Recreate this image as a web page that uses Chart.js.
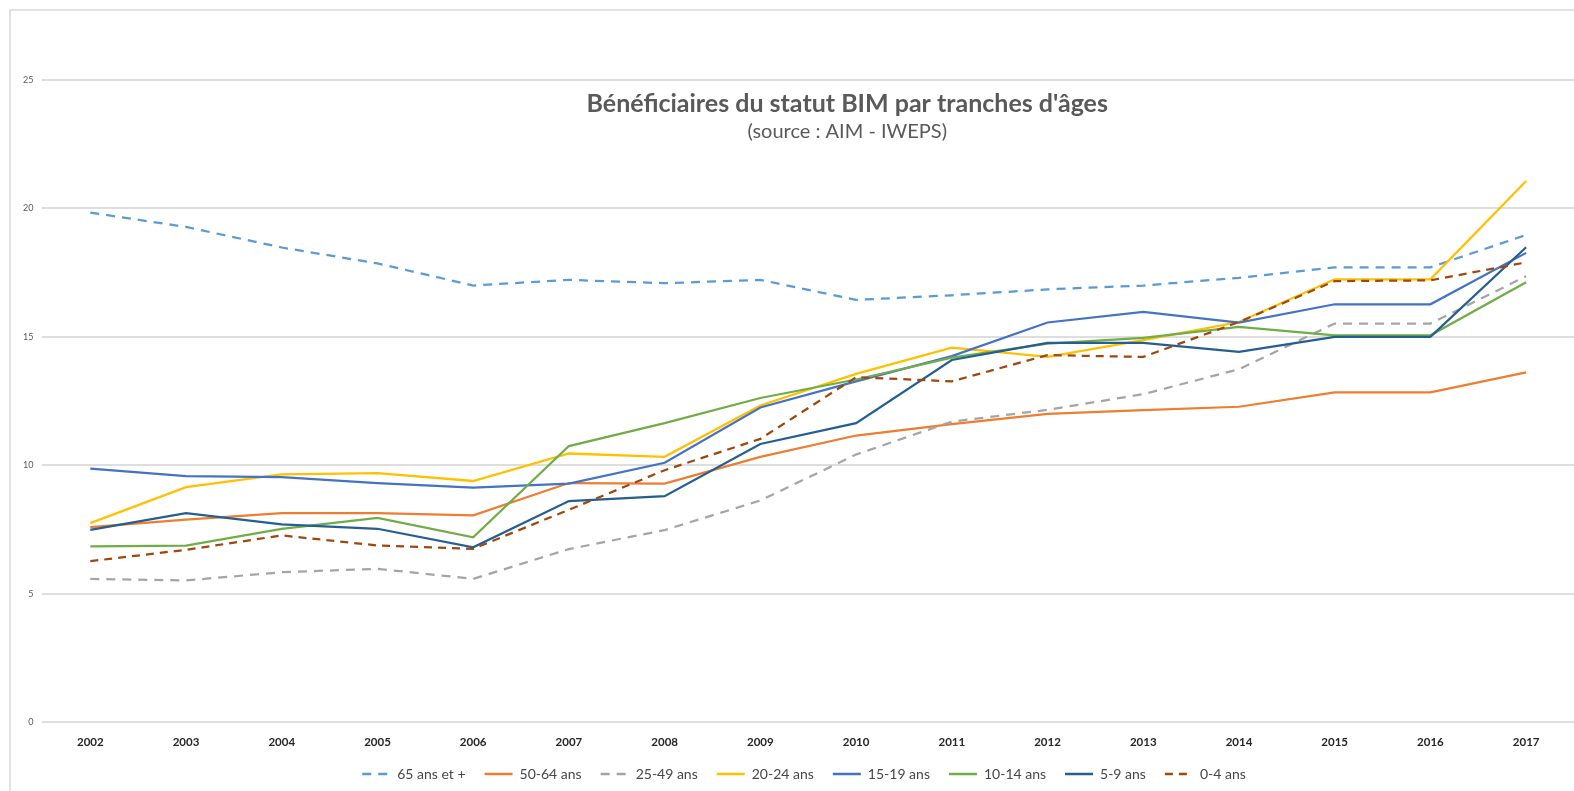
<!DOCTYPE html>
<html lang="fr">
<head>
<meta charset="utf-8">
<title>Bénéficiaires du statut BIM par tranches d'âges</title>
<script src="https://cdn.jsdelivr.net/npm/chart.js@4.4.1/dist/chart.umd.min.js"></script>
<style>
  html, body { margin: 0; padding: 0; background: #fff; }
  #wrap { width: 1574px; height: 791px; position: relative; }
</style>
</head>
<body>
<div id="wrap"><canvas id="bimChart"></canvas></div>
<script>
// years on the x axis
const years = ['2002', '2003', '2004', '2005', '2006', '2007', '2008', '2009',
  '2010', '2011', '2012', '2013', '2014', '2015', '2016', '2017'];

// values per age group
const ans65plus = [19.84, 19.28, 18.48, 17.86, 17.0, 17.22, 17.09, 17.22, 16.44, 16.62, 16.85, 17.0, 17.3, 17.71, 17.71, 18.97];
const ans50_64 = [7.59, 7.89, 8.14, 8.14, 8.05, 9.31, 9.29, 10.33, 11.16, 11.6, 12.0, 12.15, 12.28, 12.84, 12.84, 13.62];
const ans25_49 = [5.58, 5.52, 5.84, 5.97, 5.58, 6.74, 7.48, 8.63, 10.42, 11.7, 12.16, 12.77, 13.74, 15.52, 15.52, 17.36];
const ans20_24 = [7.75, 9.15, 9.65, 9.7, 9.39, 10.46, 10.33, 12.33, 13.56, 14.58, 14.22, 14.87, 15.58, 17.24, 17.24, 21.07];
const ans15_19 = [9.87, 9.58, 9.54, 9.31, 9.13, 9.29, 10.1, 12.25, 13.27, 14.25, 15.56, 15.97, 15.56, 16.27, 16.27, 18.27];
const ans10_14 = [6.84, 6.87, 7.53, 7.95, 7.2, 10.75, 11.64, 12.62, 13.34, 14.19, 14.74, 14.96, 15.39, 15.06, 15.06, 17.13];
const ans5_9 = [7.49, 8.14, 7.7, 7.53, 6.81, 8.61, 8.8, 10.83, 11.64, 14.1, 14.77, 14.77, 14.42, 15.0, 15.0, 18.49];
const ans0_4 = [6.27, 6.71, 7.27, 6.88, 6.75, 8.27, 9.81, 11.03, 13.43, 13.27, 14.29, 14.22, 15.58, 17.17, 17.2, 17.9];

const yTicks = [0, 5, 10, 15, 20, 25];

const titleText = "Bénéficiaires du statut BIM par tranches d'âges";
const subtitleText = '(source : AIM - IWEPS)';

function line(label, data, color, dash) {
  return {
    label: label,
    data: data,
    borderColor: color,
    backgroundColor: color,
    borderWidth: 2.25,
    borderDash: dash || [],
    pointRadius: 0,
    pointHoverRadius: 0,
    tension: 0,
    fill: false
  };
}

// Excel paints the last series on top, Chart.js paints the first one on top,
// so the list is reversed here and the legend is flipped back.
const datasets = [
  line('0-4 ans', ans0_4, '#9e480e', [8, 6]),
  line('5-9 ans', ans5_9, '#255e91'),
  line('10-14 ans', ans10_14, '#70ad47'),
  line('15-19 ans', ans15_19, '#4472c4'),
  line('20-24 ans', ans20_24, '#ffc000'),
  line('25-49 ans', ans25_49, '#a5a5a5', [9, 7]),
  line('50-64 ans', ans50_64, '#ed7d31'),
  line('65 ans et +', ans65plus, '#5b9bd5', [9, 7])
];

// frame round the chart and the title drawn inside the plot, like in Excel
const excelFrame = {
  id: 'excelFrame',
  afterLayout(chart) {
    // legend sits a little right of the canvas centre in the original
    chart.legend.left += 10;
    chart.legend.right += 10;
  },
  beforeDraw(chart) {
    const ctx = chart.ctx;
    ctx.save();
    ctx.fillStyle = '#ffffff';
    ctx.fillRect(0, 0, chart.width, chart.height);
    ctx.strokeStyle = '#d9d9d9';
    ctx.lineWidth = 1.5;
    ctx.strokeRect(10, 10, chart.width, chart.height);
    ctx.restore();
  },
  afterDraw(chart) {
    const ctx = chart.ctx;
    const area = chart.chartArea;
    const cx = (area.left + area.right) / 2 + 39;
    ctx.save();
    ctx.textAlign = 'center';
    ctx.textBaseline = 'middle';
    ctx.fillStyle = '#595959';
    ctx.font = 'bold 25px Lato, "Open Sans", sans-serif';
    ctx.fillText(titleText, cx, area.top + 24);
    ctx.font = '20px Lato, "Open Sans", sans-serif';
    ctx.fillText(subtitleText, cx, area.top + 52);
    ctx.restore();
  }
};

// legend keys take the line dash and width of their series
function legendLabels(chart) {
  const items = Chart.defaults.plugins.legend.labels.generateLabels(chart);
  items.forEach(item => {
    const ds = chart.data.datasets[item.datasetIndex];
    item.lineDash = ds.borderDash;
    item.lineWidth = 2.5;
    item.strokeStyle = ds.borderColor;
  });
  return items;
}

const ctx = document.getElementById('bimChart');
new Chart(ctx, {
  type: 'line',
  data: { labels: years, datasets: datasets },
  plugins: [excelFrame],
  options: {
    responsive: true,
    maintainAspectRatio: false,
    animation: false,
    layout: { padding: { left: 14, right: 0, top: 80, bottom: 0 } },
    plugins: {
      title: { display: false },
      tooltip: { enabled: false },
      legend: {
        position: 'bottom',
        reverse: true,
        labels: {
          usePointStyle: true,
          pointStyle: 'line',
          pointStyleWidth: 28,
          padding: 19,
          color: '#474747',
          font: { family: 'Lato, "Open Sans", sans-serif', size: 14 },
          generateLabels: legendLabels
        }
      }
    },
    scales: {
      x: {
        offset: true,
        grid: { display: false, drawTicks: false },
        border: { display: false },
        ticks: {
          padding: 13,
          color: '#262626',
          font: { family: 'Lato, "Open Sans", sans-serif', size: 11.5, weight: 'bold' }
        },
        afterFit(scale) { scale.height -= 14; }
      },
      y: {
        min: 0,
        max: 25,
        afterBuildTicks(scale) { scale.ticks = yTicks.map(v => ({ value: v })); },
        grid: { color: '#dedede', lineWidth: 2, drawTicks: false },
        border: { display: false },
        ticks: {
          padding: 9,
          color: '#595959',
          font: { family: 'Lato, "Open Sans", sans-serif', size: 9 }
        }
      }
    }
  }
});
</script>
</body>
</html>
